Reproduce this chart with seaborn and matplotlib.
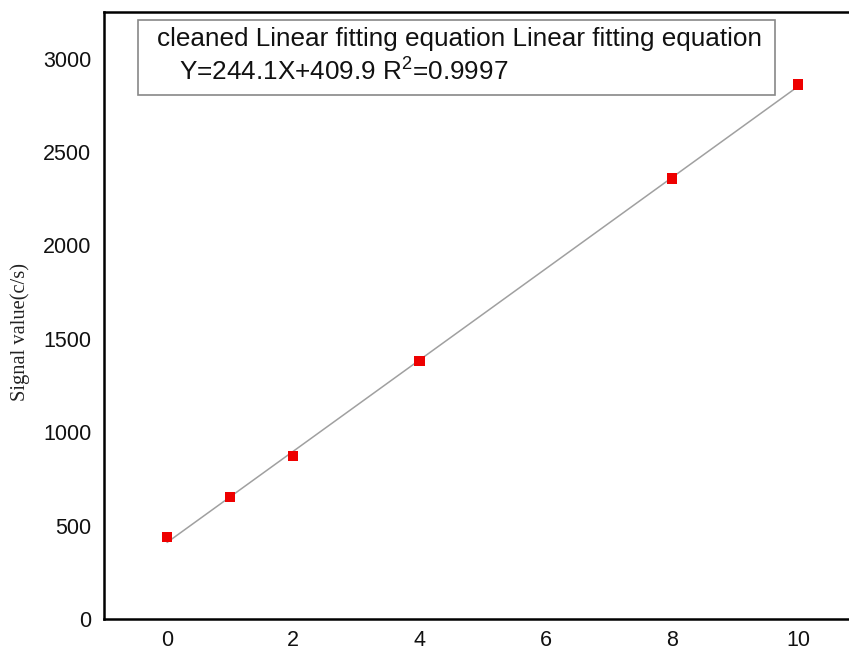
import matplotlib
matplotlib.use("Agg")
import matplotlib.pyplot as plt
import seaborn as sns
import pandas as pd
import numpy as np
from matplotlib.patches import Rectangle

# data
concentration = [0, 1, 2, 4, 8, 10]
signal = [438, 652, 872, 1383, 2358, 2862]
slope = 244.1
intercept = 409.9
fit_x = [0, 10]
x_ticks = [0, 2, 4, 6, 8, 10]
y_ticks = [0, 500, 1000, 1500, 2000, 2500, 3000]
legend_line1 = "cleaned Linear fitting equation Linear fitting equation"
legend_line2 = "Y=244.1X+409.9 R$^2$=0.9997"
ylabel = "Signal value(c/s)"

sns.set_theme(style="white")
plt.rcParams['font.family'] = ['Liberation Sans', 'DejaVu Sans']
plt.rcParams['mathtext.fontset'] = 'custom'
plt.rcParams['mathtext.rm'] = 'Liberation Sans'

fig = plt.figure(figsize=(8.49, 6.5), dpi=100)
ax = fig.add_axes([104/849, 31/650, 757/849, 607/650])

df = pd.DataFrame({"x": concentration, "y": signal})
fit_df = pd.DataFrame({"x": fit_x, "y": [slope * v + intercept for v in fit_x]})

sns.lineplot(data=fit_df, x="x", y="y", ax=ax, color="#a0a0a0", linewidth=1.1, zorder=2)
sns.scatterplot(data=df, x="x", y="y", ax=ax, marker="s", color="#ee0000",
                s=55, edgecolor="none", zorder=3)

ax.set_xlim(-1, 11)
ax.set_ylim(0, 3250)
ax.set_xticks(x_ticks)
ax.set_yticks(y_ticks)
ax.set_xlabel("")
ax.set_ylabel("")
ax.tick_params(axis="both", direction="in", length=9, width=1.3, labelsize=15.5,
               color="black", labelcolor="#111111")
ax.tick_params(axis="x", pad=8)
ax.tick_params(axis="y", pad=9)
for sp in ax.spines.values():
    sp.set_color("black")
    sp.set_linewidth(1.8)
ax.grid(False)

fig.text(20/849, 1 - 332/650, ylabel, family="Liberation Serif", fontsize=14.8,
         rotation=90, ha="center", va="center", color="#222222")

# legend box
fig.patches.append(Rectangle((138/849, 1 - 95/650), (775-138)/849, (95-20)/650,
                             transform=fig.transFigure, fill=False,
                             edgecolor="#888888", linewidth=1.2))
fig.text(157/849, 1 - 39/650, legend_line1, fontsize=18.8, va="center", ha="left", color="#111111")
fig.text(179/849, 1 - 71/650, legend_line2, fontsize=18.8, va="center", ha="left", color="#111111")

fig.savefig("out.png", dpi=100)
